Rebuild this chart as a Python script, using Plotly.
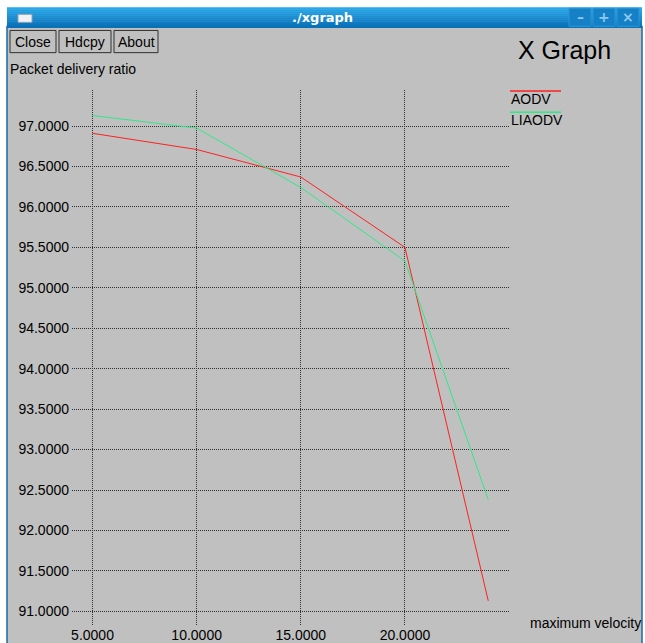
import plotly.graph_objects as go

# ---- data ----
velocity = [5, 10, 15, 20, 24]
aodv = [96.91, 96.71, 96.37, 95.50, 91.13]
liaodv = [97.13, 96.975, 96.24, 95.33, 92.38]
series_names = ["AODV", "LIAODV"]
series_colors = ["#ff2020", "#30e888"]
x_ticks = [5, 10, 15, 20]
y_ticks = [91.0, 91.5, 92.0, 92.5, 93.0, 93.5, 94.0, 94.5, 95.0, 95.5, 96.0, 96.5, 97.0]

# ---- geometry (pixels, in reference coordinates) ----
W, H = 645, 643
K, OFF = 0.979, 2.2      # vertical compensation for how the page is photographed
L, R, T, B = 72, 509, 90, 620
X_RANGE = [4.016, 24.995]
Y_RANGE = [90.8315, 97.4455]
FONT = "Liberation Sans, Arial, sans-serif"
GREY = "#c0c0c0"


def fx(p):
    return (p - L) / (R - L)


def fy(p):
    return (B - p) / (B - T)


def vy(p):
    """reference pixel row -> figure pixel row"""
    return (p - OFF) / K


shapes = []
annotations = []


def rect(x0, y0, x1, y1, fill, line=None, lw=0, layer="below"):
    shapes.append(dict(type="rect", xref="paper", yref="paper",
                       x0=fx(x0), x1=fx(x1), y0=fy(y1), y1=fy(y0),
                       fillcolor=fill, layer=layer,
                       line=dict(color=line or fill, width=lw)))


def hline(x0, x1, y, color, w=1.5, layer="above"):
    shapes.append(dict(type="line", xref="paper", yref="paper",
                       x0=fx(x0), x1=fx(x1), y0=fy(y), y1=fy(y),
                       layer=layer, line=dict(color=color, width=w)))


def text(x, y, s, size=14, color="black", xa="left", ya="middle", family=FONT):
    annotations.append(dict(x=fx(x), y=fy(y), xref="paper", yref="paper",
                            text=s, showarrow=False, xanchor=xa, yanchor=ya,
                            borderpad=0,
                            font=dict(family=family, size=size, color=color)))


# window body
rect(7, 27, 642, 641, GREY, line="#1a6aa8", lw=1.5)
# title bar gradient
top_c = (40, 168, 232)
bot_c = (10, 112, 184)
n = 10
for i in range(n):
    t = i / (n - 1)
    c = tuple(int(top_c[k] + (bot_c[k] - top_c[k]) * t) for k in range(3))
    rect(7, 8 + i * 2, 642, 8 + (i + 1) * 2 + 0.5, "rgb(%d,%d,%d)" % c)
# window icon
rect(18, 15, 32, 23, "#f2f2f2", line="#8aa0b0", lw=1)
text(322, 18, "<b>./xgraph</b>", size=13, color="white", xa="center",
     family="DejaVu Sans, sans-serif")
# window controls
for (x0, x1, g) in [(569, 591, "–"), (593, 615, "+"), (617, 639, "×")]:
    rect(x0, 9, x1, 27, "#1680c6", line="#2a95d8", lw=1)
    text((x0 + x1) / 2, 18, "<b>%s</b>" % g, size=14, color="#8cc8f0", xa="center",
         family="DejaVu Sans, sans-serif")

# buttons
for (x0, x1, s) in [(10, 56, "Close"), (59, 111, "Hdcpy"), (114, 158, "About")]:
    rect(x0, 31, x1, 53, GREY, line="#303030", lw=1)
    text((x0 + x1) / 2, 42, s, size=14, xa="center")

text(517, 50, "X Graph", size=25)
text(9, 69, "Packet delivery ratio", size=14)
text(529, 618, "maximum velocity", size=14)

# legend (xgraph style: line above label)
hline(510, 561, 91, series_colors[0])
text(510, 99, series_names[0], size=14)
hline(510, 561, 112, series_colors[1])
text(510, 120, series_names[1], size=14)

fig = go.Figure()
fig.add_trace(go.Scatter(x=velocity, y=aodv, mode="lines", name=series_names[0],
                         line=dict(color=series_colors[0], width=1)))
fig.add_trace(go.Scatter(x=velocity, y=liaodv, mode="lines", name=series_names[1],
                         line=dict(color=series_colors[1], width=1)))

HF = vy(H)
top_m = vy(T)
bot_m = HF - vy(B)
fig.update_layout(
    width=W, height=round(HF), autosize=False,
    margin=dict(l=L, r=W - R, t=top_m, b=bot_m, pad=0),
    paper_bgcolor="white",
    plot_bgcolor=GREY,
    showlegend=False,
    shapes=shapes,
    annotations=annotations,
    xaxis=dict(range=X_RANGE, tickvals=x_ticks, tickformat=".4f",
               showgrid=True, gridcolor="#303030", griddash="1px,1px", gridwidth=1,
               zeroline=False, showline=False, ticks="", ticklabelstandoff=0,
               tickfont=dict(family=FONT, size=14, color="black")),
    yaxis=dict(range=Y_RANGE, tickvals=y_ticks, tickformat=".4f",
               showgrid=True, gridcolor="#303030", griddash="1px,1px", gridwidth=1,
               zeroline=False, showline=False, ticks="", ticklabelstandoff=2,
               tickfont=dict(family=FONT, size=14, color="black")),
)

fig.write_html(
    "out.html",
    config={"responsive": False, "displayModeBar": False},
    default_width="%dpx" % W,
    default_height="%dpx" % round(HF),
    post_script="document.body.style.margin='0';document.body.style.padding='0';"
                "document.body.style.overflow='hidden';",
)
